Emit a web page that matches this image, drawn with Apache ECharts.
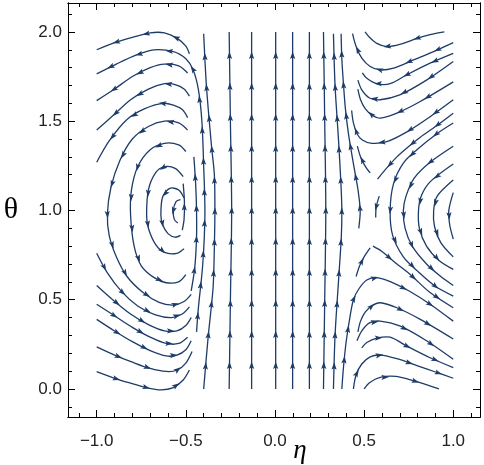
<!DOCTYPE html>
<html><head><meta charset="utf-8">
<script src="https://cdn.jsdelivr.net/npm/echarts@6/dist/echarts.min.js"></script>
<style>html,body{margin:0;padding:0;background:#fff}#c{width:484px;height:465px}</style>
</head><body><div id="c"></div><script>
// ---- tick values ----
const etaMajor = [-1.0, -0.5, 0.0, 0.5, 1.0];
const etaMinor = [-1.1,-0.9,-0.8,-0.7,-0.6,-0.4,-0.3,-0.2,-0.1,0.1,0.2,0.3,0.4,0.6,0.7,0.8,0.9,1.1];
const thetaMajor = [0.0, 0.5, 1.0, 1.5, 2.0];
const thetaMinor = [-0.1,0.1,0.2,0.3,0.4,0.6,0.7,0.8,0.9,1.1,1.2,1.3,1.4,1.6,1.7,1.8,1.9,2.1];

// ---- streamlines, each [eta, theta] in flow order ----
// left: upper arcs ending on left edge
const T1 = [[-0.48,1.877],[-0.50,1.92],[-0.55,1.965],[-0.62,1.995],[-0.70,1.995],[-0.80,1.97],[-0.90,1.94],[-1.0,1.90]];
const T2 = [[-0.44,0.32],[-0.43,0.45],[-0.405,0.70],[-0.393,0.98],[-0.40,1.25],[-0.41,1.50],[-0.43,1.68],[-0.46,1.79],[-0.50,1.85],[-0.57,1.89],[-0.68,1.90],[-0.78,1.87],[-0.89,1.82],[-1.0,1.765]];
const T3 = [[-0.49,1.77],[-0.54,1.81],[-0.62,1.82],[-0.70,1.80],[-0.80,1.75],[-0.90,1.68],[-1.0,1.615]];
const T4 = [[-0.48,1.64],[-0.51,1.68],[-0.56,1.705],[-0.62,1.71],[-0.71,1.68],[-0.81,1.62],[-0.91,1.53],[-1.0,1.45]];
const T5 = [[-0.49,1.52],[-0.52,1.565],[-0.57,1.59],[-0.63,1.60],[-0.73,1.57],[-0.83,1.51],[-0.93,1.39],[-1.0,1.27]];
// left: inner C-shaped arcs
const C6 = [[-0.49,1.45],[-0.54,1.49],[-0.62,1.50],[-0.71,1.47],[-0.80,1.40],[-0.87,1.28],[-0.92,1.13],[-0.94,0.98],[-0.93,0.86],[-0.89,0.74],[-0.83,0.63],[-0.74,0.54],[-0.65,0.485],[-0.57,0.47],[-0.51,0.49],[-0.47,0.53]];
const C7 = [[-0.50,1.33],[-0.54,1.367],[-0.62,1.376],[-0.70,1.34],[-0.77,1.245],[-0.805,1.115],[-0.81,0.975],[-0.79,0.80],[-0.75,0.69],[-0.68,0.625],[-0.61,0.595],[-0.54,0.60],[-0.50,0.64]];
const C8 = [[-0.515,1.19],[-0.56,1.236],[-0.62,1.245],[-0.67,1.21],[-0.71,1.115],[-0.72,0.975],[-0.71,0.90],[-0.67,0.81],[-0.62,0.765],[-0.55,0.76],[-0.51,0.785]];
const C9 = [[-0.51,1.07],[-0.54,1.115],[-0.59,1.124],[-0.63,1.077],[-0.64,0.975],[-0.63,0.92],[-0.60,0.87],[-0.56,0.85],[-0.53,0.86]];
const C10 = [[-0.53,1.06],[-0.555,1.05],[-0.57,1.0],[-0.565,0.95],[-0.545,0.93]];
// left: rising right arms
const RA1 = [[-0.40,0.0],[-0.375,0.29],[-0.347,0.57],[-0.34,0.8],[-0.337,1.0],[-0.34,1.2],[-0.356,1.36],[-0.384,1.69],[-0.40,1.99]];
const RA3 = [[-0.47,0.55],[-0.45,0.68],[-0.44,0.85],[-0.44,1.0],[-0.445,1.15],[-0.455,1.30]];
const RA4 = [[-0.52,0.89],[-0.51,0.95],[-0.508,1.05],[-0.515,1.15]];
// left: lower arcs starting on left edge
const B1 = [[-1.0,0.097],[-0.90,0.06],[-0.80,0.03],[-0.71,0.005],[-0.64,-0.005],[-0.57,0.008],[-0.515,0.05],[-0.48,0.106]];
const B2 = [[-1.0,0.236],[-0.90,0.19],[-0.80,0.15],[-0.70,0.115],[-0.61,0.098],[-0.55,0.105],[-0.50,0.145],[-0.465,0.21]];
const B3 = [[-1.0,0.39],[-0.90,0.325],[-0.80,0.265],[-0.70,0.215],[-0.61,0.185],[-0.55,0.19],[-0.50,0.22],[-0.47,0.27]];
const B4 = [[-1.0,0.475],[-0.90,0.41],[-0.80,0.345],[-0.70,0.29],[-0.61,0.255],[-0.54,0.255],[-0.49,0.29]];
const B5 = [[-1.0,0.58],[-0.91,0.50],[-0.81,0.42],[-0.71,0.36],[-0.62,0.325],[-0.55,0.325],[-0.50,0.355],[-0.47,0.40]];
const B6 = [[-1.0,0.76],[-0.94,0.65],[-0.86,0.545],[-0.77,0.465],[-0.67,0.415],[-0.58,0.40],[-0.52,0.42],[-0.48,0.46]];
// middle: near-vertical lines (upward)
const V2 = [[-0.257,0.0],[-0.25,0.5],[-0.243,1.0],[-0.25,1.5],[-0.257,2.0]];
const V3 = [[-0.131,0.0],[-0.131,1.0],[-0.131,2.0]];
const V4 = [[0.004,0.0],[0.004,1.0],[0.004,2.0]];
const V5 = [[0.099,0.0],[0.099,1.0],[0.099,2.0]];
const V6 = [[0.193,0.0],[0.193,1.0],[0.193,2.0]];
const V7 = [[0.272,0.0],[0.279,0.5],[0.285,1.0],[0.279,1.5],[0.272,2.0]];
const V8 = [[0.328,0.0],[0.337,0.3],[0.356,0.6],[0.372,0.85],[0.375,1.0],[0.37,1.15],[0.356,1.4],[0.337,1.7],[0.328,1.99]];
const V9 = [[0.47,0.90],[0.478,1.0],[0.465,1.12],[0.449,1.21],[0.43,1.32],[0.412,1.43],[0.395,1.57],[0.384,1.71],[0.375,1.85],[0.371,1.99]];
// right: upper branches (from right edge, left, then up)
const H1 = [[0.95,2.0],[0.87,1.985],[0.80,1.965],[0.70,1.93],[0.627,1.918],[0.571,1.936],[0.53,1.97],[0.505,2.0]];
const H2 = [[1.0,1.94],[0.89,1.89],[0.777,1.843],[0.665,1.797],[0.59,1.787],[0.534,1.806],[0.487,1.853],[0.455,1.918],[0.435,1.99]];
const H3 = [[1.0,1.88],[0.87,1.825],[0.74,1.76],[0.646,1.71],[0.571,1.71],[0.515,1.74],[0.49,1.77]];
const H4 = [[1.0,1.834],[0.85,1.73],[0.70,1.647],[0.59,1.62],[0.53,1.63],[0.487,1.675],[0.465,1.73]];
const H5 = [[1.0,1.72],[0.815,1.61],[0.684,1.545],[0.59,1.517],[0.543,1.535],[0.506,1.57],[0.48,1.62],[0.465,1.68]];
const H6 = [[1.0,1.62],[0.87,1.525],[0.74,1.44],[0.627,1.385],[0.543,1.376],[0.49,1.395],[0.46,1.43],[0.44,1.49],[0.43,1.56]];
const H7a = [[1.0,1.545],[0.90,1.47],[0.815,1.41],[0.74,1.35],[0.684,1.30],[0.62,1.23],[0.575,1.175]];
const H7b = [[0.534,1.21],[0.505,1.25],[0.48,1.30],[0.462,1.36]];
// right: C-shaped branches opening right (downward)
const R0 = [[0.585,1.08],[0.568,1.02],[0.565,0.96]];
const R4 = [[1.0,1.49],[0.908,1.43],[0.796,1.34],[0.72,1.265],[0.665,1.15],[0.646,1.0],[0.66,0.86],[0.72,0.74],[0.80,0.66],[0.90,0.575],[1.0,0.52]];
const R5 = [[1.0,1.36],[0.87,1.27],[0.78,1.18],[0.735,1.08],[0.72,1.0],[0.73,0.90],[0.77,0.80],[0.85,0.70],[0.93,0.63],[1.0,0.58]];
const R6 = [[1.0,1.26],[0.87,1.16],[0.82,1.08],[0.805,1.0],[0.81,0.90],[0.85,0.80],[0.92,0.72],[1.0,0.67]];
const R7 = [[1.0,1.17],[0.91,1.08],[0.89,1.0],[0.895,0.91],[0.93,0.82],[1.0,0.74]];
const R8 = [[1.0,1.10],[0.975,1.0],[0.98,0.92],[1.0,0.84]];
// right: lower branches (rise from below, then right)
const L1 = [[0.50,0.0],[0.53,0.035],[0.59,0.065],[0.68,0.07],[0.78,0.045],[0.92,0.0]];
const L2 = [[0.44,0.0],[0.455,0.08],[0.487,0.14],[0.534,0.18],[0.59,0.19],[0.684,0.17],[0.80,0.13],[0.90,0.095],[1.0,0.06]];
const L3 = [[0.487,0.23],[0.515,0.26],[0.571,0.285],[0.646,0.29],[0.74,0.24],[0.87,0.175],[1.0,0.12]];
const L4 = [[0.46,0.27],[0.487,0.325],[0.53,0.37],[0.59,0.38],[0.70,0.353],[0.85,0.27],[1.0,0.166]];
const L5 = [[0.465,0.32],[0.48,0.38],[0.506,0.43],[0.543,0.465],[0.59,0.483],[0.684,0.455],[0.815,0.39],[1.0,0.28]];
const L6 = [[0.375,0.0],[0.385,0.13],[0.40,0.27],[0.42,0.40],[0.44,0.50],[0.47,0.56],[0.515,0.61],[0.571,0.624],[0.65,0.60],[0.75,0.55],[0.87,0.475],[1.0,0.38]];
const U2 = [[0.55,0.80],[0.60,0.77],[0.684,0.70],[0.76,0.64],[0.87,0.54],[1.0,0.455]];
const SL = [[0.455,0.63],[0.475,0.69],[0.50,0.74],[0.534,0.79]];

const streams = [T1,T2,T3,T4,T5,C6,C7,C8,C9,C10,RA1,RA3,RA4,B1,B2,B3,B4,B5,B6,
  V2,V3,V4,V5,V6,V7,V8,V9,H1,H2,H3,H4,H5,H6,H7a,H7b,R0,R4,R5,R6,R7,R8,L1,L2,L3,L4,L5,L6,U2,SL];

const COLOR = '#1e3c68';
const ARROW_SPACING = 31;

function renderItem(params, api) {
  const line = streams[params.dataIndex];
  const pts = line.map(p => api.coord(p));
  const children = [{
    type: 'polyline', silent: true,
    shape: { points: pts, smooth: 0.3 },
    style: { stroke: COLOR, lineWidth: 1.3, fill: null }
  }];
  const cum = [0];
  for (let i = 1; i < pts.length; i++) {
    cum.push(cum[i-1] + Math.hypot(pts[i][0]-pts[i-1][0], pts[i][1]-pts[i-1][1]));
  }
  const L = cum[cum.length-1];
  const n = Math.max(1, Math.floor(L / ARROW_SPACING));
  const start = (L - (n-1) * ARROW_SPACING) / 2;
  for (let k = 0; k < n; k++) {
    const s = start + k * ARROW_SPACING;
    let i = 1;
    while (i < cum.length-1 && cum[i] < s) i++;
    const segL = (cum[i]-cum[i-1]) || 1;
    const t = (s - cum[i-1]) / segL;
    const x = pts[i-1][0] + t*(pts[i][0]-pts[i-1][0]);
    const y = pts[i-1][1] + t*(pts[i][1]-pts[i-1][1]);
    let dx = pts[i][0]-pts[i-1][0], dy = pts[i][1]-pts[i-1][1];
    const d = Math.hypot(dx, dy) || 1; dx /= d; dy /= d;
    const nx = -dy, ny = dx;
    const tip = [x + dx*4, y + dy*4];
    const b1 = [x - dx*3.5 + nx*2.6, y - dy*3.5 + ny*2.6];
    const b2 = [x - dx*3.5 - nx*2.6, y - dy*3.5 - ny*2.6];
    const bm = [x - dx*2, y - dy*2];
    children.push({ type: 'polygon', silent: true, shape: { points: [tip, b1, bm, b2] }, style: { fill: COLOR } });
  }
  return { type: 'group', children };
}

const FRAME = { show: true, onZero: false, lineStyle: { color: '#000', width: 1 } };
const fmt = v => (v < 0 ? '\u2212' : '') + Math.abs(v).toFixed(1);
const LABEL_STYLE = { color: '#222', fontSize: 17, fontFamily: 'Liberation Sans' };
const XMIN = -1.161, XMAX = 1.15, YMIN = -0.157, YMAX = 2.162;

function xAxisDef(pos, ticks, len, withLabel) {
  return {
    type: 'value', position: pos, min: XMIN, max: XMAX,
    axisLine: FRAME, splitLine: { show: false },
    axisTick: { show: true, inside: true, length: len, customValues: ticks, lineStyle: { color: '#000' } },
    axisLabel: withLabel ? Object.assign({ show: true, customValues: etaMajor, formatter: fmt, margin: 16 }, LABEL_STYLE) : { show: false }
  };
}
function yAxisDef(pos, ticks, len, withLabel) {
  return {
    type: 'value', position: pos, min: YMIN, max: YMAX,
    axisLine: FRAME, splitLine: { show: false },
    axisTick: { show: true, inside: true, length: len, customValues: ticks, lineStyle: { color: '#000' } },
    axisLabel: withLabel ? Object.assign({ show: true, customValues: thetaMajor, formatter: fmt, margin: 6 }, LABEL_STYLE) : { show: false },
    name: withLabel ? 'θ' : '', nameLocation: 'middle', nameGap: 50, nameRotate: 0,
    nameTextStyle: { fontFamily: 'Liberation Serif', fontSize: 30, color: '#000' }
  };
}

const chart = echarts.init(document.getElementById('c'), null, { renderer: 'canvas' });
chart.setOption({
  animation: false,
  backgroundColor: '#fff',
  grid: { left: 68, top: 3, right: 4, bottom: 48, containLabel: false, outerBoundsMode: 'none' },
  graphic: [{
    type: 'text', x: 300, y: 451, silent: true,
    style: { text: 'η', fontFamily: 'Liberation Serif', fontStyle: 'italic', fontSize: 27, fill: '#000', align: 'center', verticalAlign: 'middle' }
  }],
  xAxis: [
    xAxisDef('bottom', etaMajor, 7, true),
    xAxisDef('bottom', etaMinor, 4, false),
    xAxisDef('top', etaMajor, 7, false),
    xAxisDef('top', etaMinor, 4, false)
  ],
  yAxis: [
    yAxisDef('left', thetaMajor, 7, true),
    yAxisDef('left', thetaMinor, 4, false),
    yAxisDef('right', thetaMajor, 7, false),
    yAxisDef('right', thetaMinor, 4, false)
  ],
  series: [{
    type: 'custom', xAxisIndex: 0, yAxisIndex: 0,
    renderItem: renderItem,
    data: streams.map(() => [0, 1]),
    clip: true
  }]
});
</script></body></html>
